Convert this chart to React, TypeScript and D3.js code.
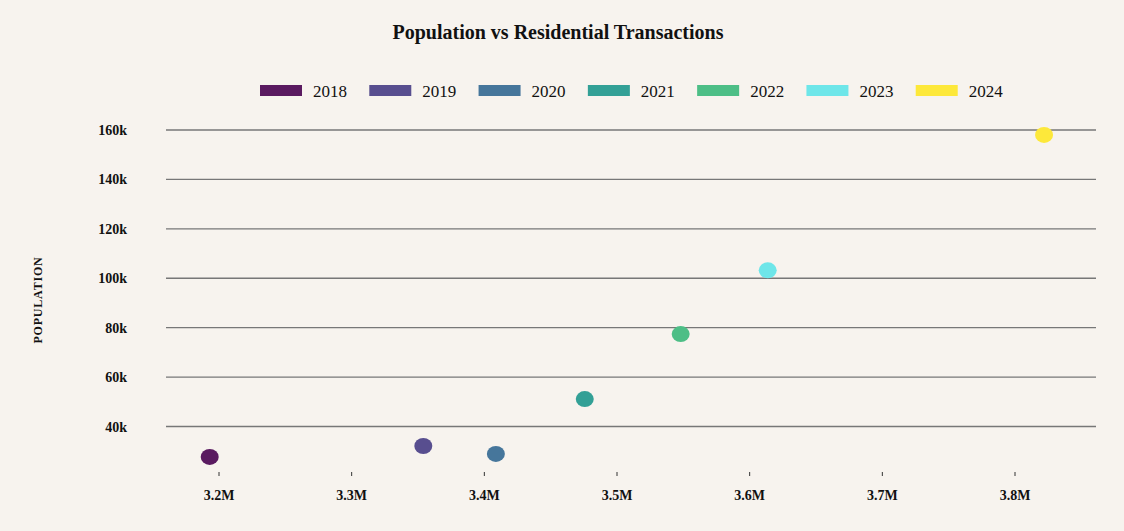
import React, { useEffect } from 'react';
import * as d3 from 'd3';

const years = ['2018', '2019', '2020', '2021', '2022', '2023', '2024'];
const transactions = [3193000, 3354000, 3408700, 3475700, 3548000, 3613600, 3821900];
const population = [27700, 32100, 28900, 51100, 77400, 103200, 158000];
const colors = ['#5a1a60', '#584e8f', '#46769b', '#33a096', '#4dbe86', '#6ee6e9', '#fde83a'];
const xTicks = [3200000, 3300000, 3400000, 3500000, 3600000, 3700000, 3800000];
const yTicks = [40000, 60000, 80000, 100000, 120000, 140000, 160000];

const W = 1124;
const H = 531;
const font = '"Liberation Serif", "DejaVu Serif", serif';

const App: React.FC = () => {
  useEffect(() => {
    document.body.style.margin = '0';
    document.body.style.background = '#f7f3ee';
  }, []);

  const x = d3.scaleLinear().domain([3200000, 3800000]).range([219, 1015]);
  const y = d3.scaleLinear().domain([40000, 160000]).range([426.5, 130]);
  const gridLeft = 166;
  const gridRight = 1096;
  const axisY = 472;

  const fmtX = (v: number) => d3.format('.1f')(v / 1e6) + 'M';
  const fmtY = (v: number) => v / 1000 + 'k';

  const legendX = d3.scaleBand().domain(years).range([260, 1025]);

  return (
    <svg width={W} height={H} style={{ display: 'block', background: '#f7f3ee', fontFamily: font }}>
      <text x={558} y={39} textAnchor="middle" fontSize={20} fontWeight="bold" fill="#111" fontFamily={font}>
        Population vs Residential Transactions
      </text>

      {years.map((yr, i) => (
        <g key={yr} transform={`translate(${legendX(yr)},85)`}>
          <rect width={42} height={11} fill={colors[i]} />
          <text x={53} y={11.5} fontSize={17} fill="#111" fontFamily={font}>
            {yr}
          </text>
        </g>
      ))}

      <text
        transform={`translate(42,300) rotate(-90)`}
        textAnchor="middle"
        fontSize={12}
        fontWeight="bold"
        letterSpacing={0.8}
        fill="#111"
        fontFamily={font}
      >
        POPULATION
      </text>

      {yTicks.map((t) => (
        <g key={t}>
          <line x1={gridLeft} x2={gridRight} y1={y(t)} y2={y(t)} stroke="#777" strokeWidth={1.4} />
          <text x={127} y={y(t) + 5} textAnchor="end" fontSize={14} fontWeight="bold" fill="#111" fontFamily={font}>
            {fmtY(t)}
          </text>
        </g>
      ))}

      {xTicks.map((t) => (
        <g key={t}>
          <line x1={x(t)} x2={x(t)} y1={axisY} y2={axisY + 4} stroke="#333" strokeWidth={1} />
          <text x={x(t)} y={axisY + 28} textAnchor="middle" fontSize={14} fontWeight="bold" fill="#111" fontFamily={font}>
            {fmtX(t)}
          </text>
        </g>
      ))}

      {years.map((yr, i) => (
        <ellipse
          key={yr}
          cx={x(transactions[i])}
          cy={y(population[i])}
          rx={9}
          ry={8}
          fill={colors[i]}
        />
      ))}
    </svg>
  );
};

export default App;
